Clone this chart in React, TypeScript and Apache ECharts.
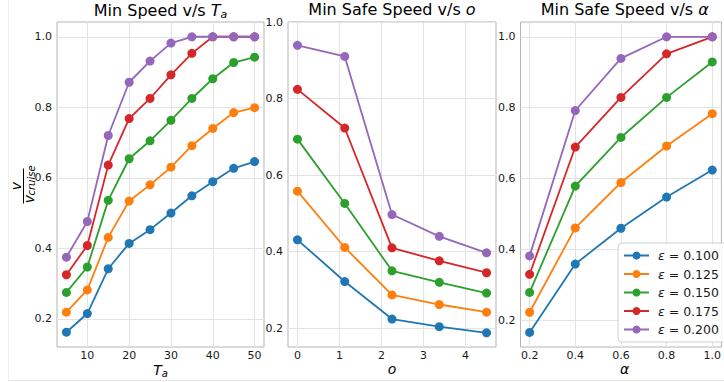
import React, { useEffect, useRef } from "react";
import * as echarts from "echarts";

const epsLabels = ["0.100", "0.125", "0.150", "0.175", "0.200"];
const colors = ["#1f77b4", "#ff7f0e", "#2ca02c", "#d62728", "#9467bd"];

const taValues = [5, 10, 15, 20, 25, 30, 35, 40, 45, 50];
const taEps100 = [0.162, 0.215, 0.342, 0.414, 0.453, 0.5, 0.549, 0.589, 0.627, 0.646];
const taEps125 = [0.219, 0.282, 0.431, 0.534, 0.58, 0.63, 0.691, 0.74, 0.785, 0.799];
const taEps150 = [0.275, 0.347, 0.536, 0.654, 0.705, 0.763, 0.825, 0.881, 0.927, 0.942];
const taEps175 = [0.325, 0.408, 0.636, 0.768, 0.825, 0.892, 0.953, 1.0, 1.0, 1.0];
const taEps200 = [0.375, 0.476, 0.72, 0.871, 0.931, 0.982, 1.0, 1.0, 1.0, 1.0];

const oValues = [0, 1.125, 2.25, 3.375, 4.5];
const oEps100 = [0.431, 0.322, 0.224, 0.204, 0.188];
const oEps125 = [0.558, 0.411, 0.287, 0.262, 0.242];
const oEps150 = [0.694, 0.526, 0.35, 0.32, 0.292];
const oEps175 = [0.824, 0.723, 0.41, 0.376, 0.345];
const oEps200 = [0.939, 0.91, 0.497, 0.44, 0.397];

const alphaValues = [0.2, 0.4, 0.6, 0.8, 1.0];
const aEps100 = [0.166, 0.359, 0.46, 0.548, 0.624];
const aEps125 = [0.223, 0.461, 0.589, 0.692, 0.783];
const aEps150 = [0.279, 0.579, 0.716, 0.829, 0.929];
const aEps175 = [0.33, 0.689, 0.829, 0.952, 1.0];
const aEps200 = [0.382, 0.792, 0.939, 1.0, 1.0];

const taTicks = [10, 20, 30, 40, 50];
const oTicks = [0, 1, 2, 3, 4];
const alphaTicks = [0.2, 0.4, 0.6, 0.8, 1.0];
const yTicks = [0.2, 0.4, 0.6, 0.8, 1.0];

const FONT = "DejaVu Sans";

export default function App() {
  const ref = useRef<HTMLDivElement>(null);
  useEffect(() => {
    const chart = echarts.init(ref.current!, null, { renderer: "svg" });
    const grids = [
      { left: 57, top: 22, width: 207, height: 325 },
      { left: 288, top: 22, width: 208, height: 325 },
      { left: 520.5, top: 22, width: 208.3, height: 325 },
    ];
    const xTicksList = [taTicks, oTicks, alphaTicks];
    const xRanges = [
      [2.75, 52.25],
      [-0.225, 4.725],
      [0.16, 1.04],
    ];
    const yRanges = [
      [0.1201, 1.0419],
      [0.151, 1.0],
      [0.125, 1.0417],
    ];
    const xFmt = [
      (v: number) => String(Math.round(v)),
      (v: number) => String(Math.round(v)),
      (v: number) => v.toFixed(1),
    ];
    const names = epsLabels.map((e) => "ε = " + e);
    const xs = [taValues, oValues, alphaValues];
    const ys = [
      [taEps100, taEps125, taEps150, taEps175, taEps200],
      [oEps100, oEps125, oEps150, oEps175, oEps200],
      [aEps100, aEps125, aEps150, aEps175, aEps200],
    ];
    const series: any[] = [];
    ys.forEach((panel, p) => {
      panel.forEach((vals, i) => {
        series.push({
          type: "line",
          name: names[i],
          xAxisIndex: p,
          yAxisIndex: p,
          data: vals.map((v, k) => [xs[p][k], v]),
          symbol: "circle",
          symbolSize: 9,
          showSymbol: true,
          lineStyle: { width: 1.8, color: colors[i] },
          itemStyle: { color: colors[i] },
          clip: false,
          z: 2 + i,
        });
      });
    });
    const titleRich = {
      i: { fontStyle: "italic", fontSize: 16, fontFamily: FONT, color: "#000" },
      s: { fontStyle: "italic", fontSize: 11, fontFamily: FONT, color: "#000", verticalAlign: "bottom", padding: [8, 0, 0, 0] },
    };
    const nameRich = {
      i: { fontStyle: "italic", fontSize: 14, fontFamily: FONT, color: "#000" },
      s: { fontStyle: "italic", fontSize: 10, fontFamily: FONT, color: "#000", verticalAlign: "bottom", padding: [7, 0, 0, 0] },
    };
    const titles = [
      { text: "Min Speed v/s {i|T}{s|a}", cx: 160.5 },
      { text: "Min Safe Speed v/s {i|o}", cx: 392 },
      { text: "Min Safe Speed v/s {i|α}", cx: 624.7 },
    ];
    const axisNames = [
      { text: "{i|T}{s|a}", cx: 160.5 },
      { text: "{i|o}", cx: 392 },
      { text: "{i|α}", cx: 624.7 },
    ];
    const option: any = {
      animation: false,
      color: colors,
      textStyle: { fontFamily: FONT },
      title: titles.map((t) => ({
        text: t.text,
        left: t.cx,
        top: 1,
        textAlign: "center",
        padding: 0,
        textStyle: { fontFamily: FONT, fontSize: 16, fontWeight: "normal", color: "#000", rich: titleRich },
      })),
      grid: grids.map((g) => ({
        ...g,
        show: true,
        borderColor: "#b5b5b5",
        borderWidth: 1,
        backgroundColor: "transparent",
        containLabel: false,
      })),
      xAxis: grids.map((_, p) => ({
        type: "value",
        gridIndex: p,
        min: xRanges[p][0],
        max: xRanges[p][1],
        axisLine: { show: false },
        axisTick: { show: false, customValues: xTicksList[p] },
        axisLabel: {
          customValues: xTicksList[p],
          formatter: xFmt[p],
          fontFamily: FONT,
          fontSize: 11,
          color: "#1a1a1a",
          margin: 3,
          showMinLabel: true,
          showMaxLabel: true,
        },
        splitLine: { show: true, lineStyle: { color: "#e3e3e3", width: 1 } },
      })),
      yAxis: grids.map((_, p) => ({
        type: "value",
        gridIndex: p,
        min: yRanges[p][0],
        max: yRanges[p][1],
        axisLine: { show: false },
        axisTick: { show: false, customValues: yTicks },
        axisLabel: {
          customValues: yTicks,
          formatter: (v: number) => v.toFixed(1),
          fontFamily: FONT,
          fontSize: 11,
          color: "#1a1a1a",
          margin: 5,
          showMinLabel: true,
          showMaxLabel: true,
        },
        splitLine: { show: true, lineStyle: { color: "#e3e3e3", width: 1 } },
      })),
      legend: {
        data: names,
        orient: "vertical",
        left: 618,
        top: 243,
        padding: [5, 12, 5, 5],
        itemWidth: 25,
        itemHeight: 10,
        itemGap: 3.5,
        backgroundColor: "rgba(255,255,255,0.85)",
        borderColor: "#d0d0d0",
        borderWidth: 1,
        borderRadius: 4,
        formatter: (name: string) => name.replace("ε", "{i|ε}"),
        textStyle: {
          fontFamily: FONT,
          fontSize: 12.5,
          color: "#1a1a1a",
          lineHeight: 15,
          padding: [0, 0, 0, 4],
          rich: { i: { fontStyle: "italic", fontFamily: FONT, fontSize: 12.5, color: "#1a1a1a" } },
        },
      },
      graphic: [
        ...axisNames.map((a) => ({
          type: "text",
          x: a.cx,
          y: 361.5,
          style: {
            text: a.text,
            fontFamily: FONT,
            fontSize: 14,
            fill: "#000",
            align: "center",
            verticalAlign: "top",
            rich: nameRich,
          },
        })),
        {
          type: "group",
          x: 23.5,
          y: 186,
          rotation: Math.PI / 2,
          children: [
            {
              type: "line",
              shape: { x1: -17.5, y1: 0, x2: 17.5, y2: 0 },
              style: { stroke: "#000", lineWidth: 1 },
            },
            {
              type: "text",
              x: 0,
              y: -1,
              style: { text: "v", fontFamily: FONT, fontStyle: "italic", fontSize: 14, fill: "#000", align: "center", verticalAlign: "bottom" },
            },
            {
              type: "text",
              x: -9,
              y: 12,
              style: { text: "v", fontFamily: FONT, fontStyle: "italic", fontSize: 14, fill: "#000", align: "right", verticalAlign: "bottom" },
            },
            {
              type: "text",
              x: -9.5,
              y: 13,
              style: { text: "cruise", fontFamily: FONT, fontStyle: "italic", fontSize: 10, fill: "#000", align: "left", verticalAlign: "bottom" },
            },
          ],
        },
        {
          type: "line",
          shape: { x1: 8, y1: 380.5, x2: 724, y2: 380.5 },
          style: { stroke: "#e6e6e6", lineWidth: 1 },
        },
        {
          type: "line",
          shape: { x1: 8.5, y1: 0, x2: 8.5, y2: 381 },
          style: { stroke: "#eeeeee", lineWidth: 1 },
        },
      ],
      series,
    };
    chart.setOption(option);
    return () => chart.dispose();
  }, []);
  return (
    <div
      ref={ref}
      style={{ position: "absolute", left: 0, top: 0, width: 724, height: 382, background: "#fff" }}
    />
  );
}
